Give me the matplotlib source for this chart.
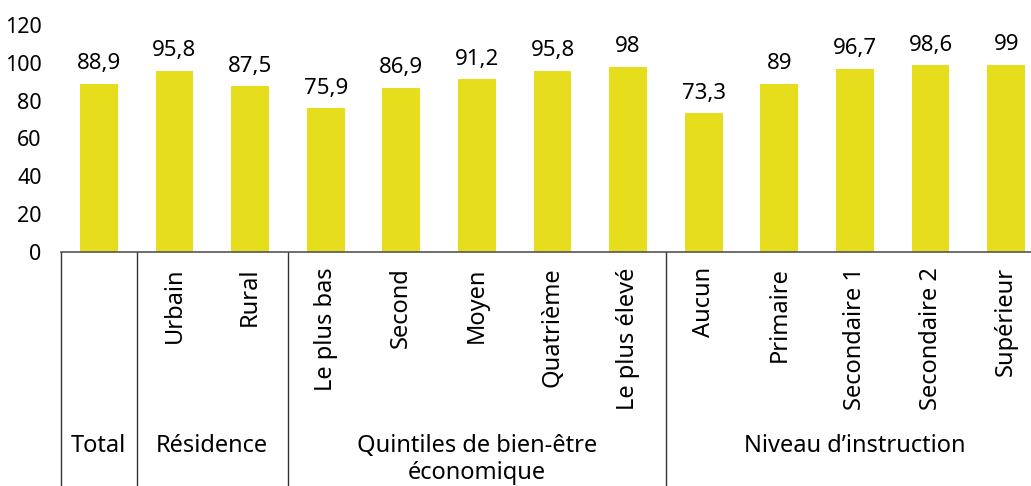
import matplotlib
matplotlib.use('Agg')
import matplotlib.pyplot as plt
import matplotlib.transforms as mtransforms

# data
categories = ['Total', 'Urbain', 'Rural', 'Le plus bas', 'Second', 'Moyen',
              'Quatrième', 'Le plus élevé', 'Aucun', 'Primaire', 'Secondaire 1',
              'Secondaire 2', 'Supérieur']
values = [88.9, 95.8, 87.5, 75.9, 86.9, 91.2, 95.8, 98.0, 73.3, 89.0, 96.7, 98.6, 99.0]
value_labels = ['88,9', '95,8', '87,5', '75,9', '86,9', '91,2', '95,8', '98',
                '73,3', '89', '96,7', '98,6', '99']
groups = ['Total', 'Résidence', 'Quintiles de bien-être\néconomique', 'Niveau d\u2019instruction']
group_sizes = [1, 2, 5, 5]
yticks = [0, 20, 40, 60, 80, 100, 120]

bar_color = '#E6DE1C'
plt.rcParams['font.family'] = ['Noto Sans', 'DejaVu Sans']
fs = 17

W, H = 1031, 486
fig = plt.figure(figsize=(W/100, H/100), dpi=100)
ax = fig.add_axes([61/W, (H-252)/H, 983/W, 227/H])

x = list(range(len(categories)))
ax.bar(x, values, width=0.5, color=bar_color, zorder=2)
for xi, v, lab in zip(x, values, value_labels):
    ax.annotate(lab, (xi, v), xytext=(0, 7), textcoords='offset points',
                ha='center', va='bottom', fontsize=16)

ax.set_xlim(-0.5, len(categories)-0.5)
ax.set_ylim(0, 120)
ax.set_yticks(yticks)
ax.tick_params(axis='y', length=0, labelsize=15.5, pad=14)
ax.set_xticks([])
for s in ['top', 'right', 'left']:
    ax.spines[s].set_visible(False)
ax.spines['bottom'].set_color('#555555')
ax.spines['bottom'].set_linewidth(1.2)

trans = mtransforms.blended_transform_factory(ax.transData, ax.transAxes)
# rotated category labels
for xi, c in zip(x, categories):
    if c == 'Total':
        continue
    ax.text(xi, -0.067, c, transform=trans, rotation=90, ha='center', va='top',
            fontsize=fs, clip_on=False)

# group separators and labels
pos = -0.5
lo_y = -(252/227)
for g, n in zip(groups, group_sizes):
    ax.plot([pos, pos], [0, lo_y], transform=trans, color='#333333', lw=1,
            clip_on=False)
    mid = pos + n/2
    ax.text(mid, -(434-252)/227, g, transform=trans, ha='center', va='top',
            fontsize=fs, clip_on=False, linespacing=1.15)
    pos += n
ax.plot([pos, pos], [0, lo_y], transform=trans, color='#333333', lw=1,
        clip_on=False)

fig.savefig('out.png', dpi=100)
